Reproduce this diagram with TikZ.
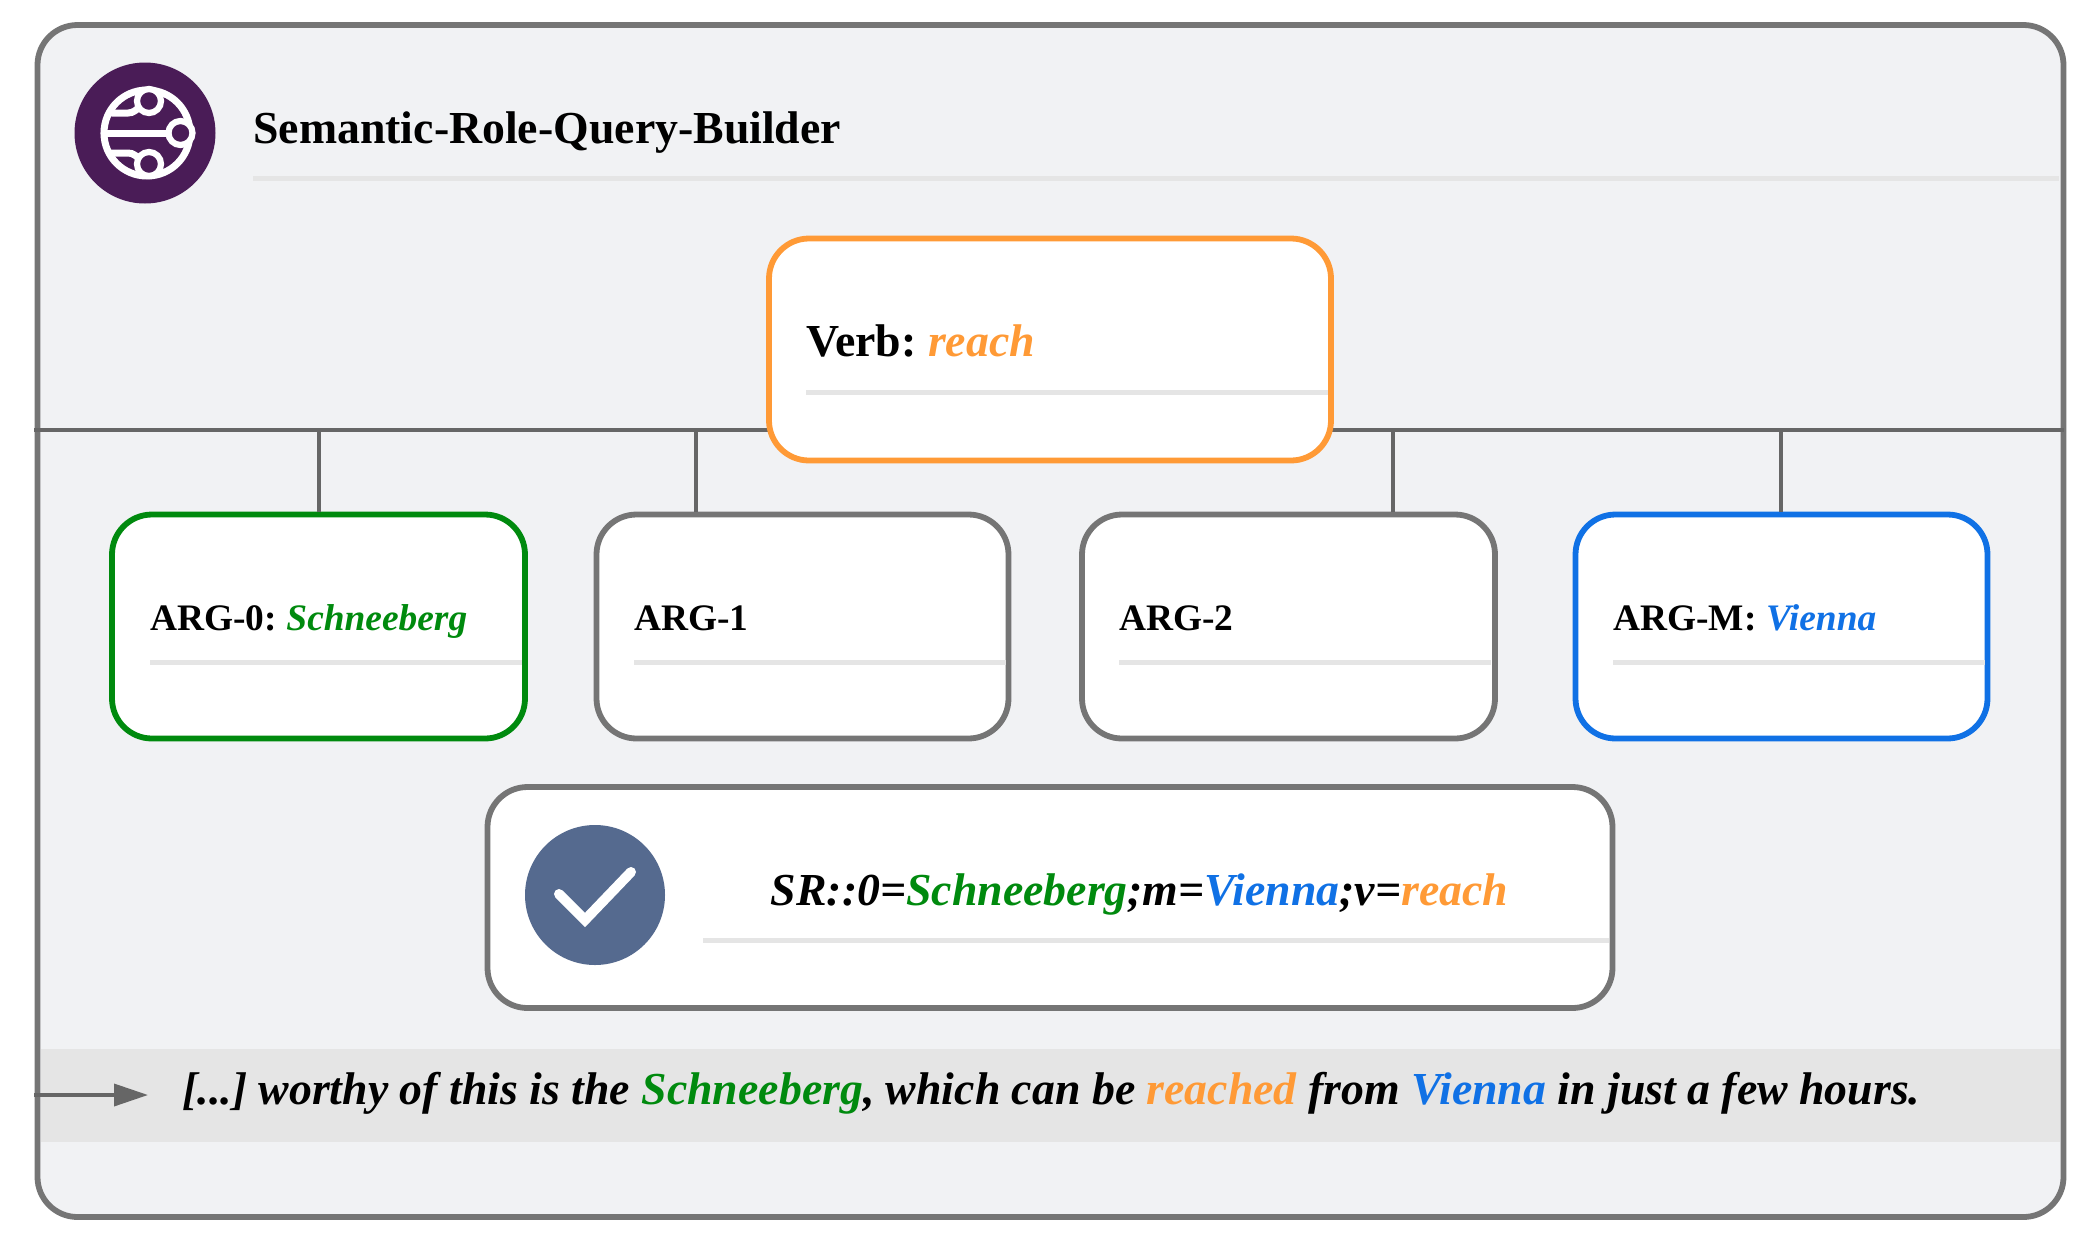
\documentclass[tikz,border=0pt]{standalone}
\usepackage{fontspec}
\setmainfont{Liberation Serif}
\usetikzlibrary{arrows.meta}
\definecolor{bgc}{HTML}{F1F2F4}
\definecolor{edgec}{HTML}{757575}
\definecolor{linec}{HTML}{666666}
\definecolor{rulec}{HTML}{E5E5E5}
\definecolor{org}{HTML}{FF9A36}
\definecolor{grn}{HTML}{008A0E}
\definecolor{blu}{HTML}{1071E5}
\definecolor{plum}{HTML}{4A1C57}
\definecolor{slate}{HTML}{556A8F}
\newcommand{\fs}[1]{\fontsize{#1}{#1}\selectfont\frenchspacing}
\tikzset{
 panel/.style={draw=#1,line width=2.9pt,fill=white,rounded corners=20pt,inner sep=0pt},
 panel/.default=edgec,
 rulel/.style={draw=rulec,line width=2.5pt},
 conn/.style={draw=linec,line width=1.8pt},
 lbl/.style={anchor=base west,inner sep=0pt,font=\bfseries},
 argl/.style={lbl,font=\bfseries\fs{18.7}},
 iconw/.style={draw=white,line width=3.5pt},
 ring/.style={circle,draw=white,line width=3.1pt,fill=plum,minimum size=12pt,inner sep=0pt},
}
\begin{document}
\begin{tikzpicture}[x=0.5pt,y=-0.5pt]
\useasboundingbox (0,0) rectangle (2100,1243);
% outer
\node[panel=edgec,fill=bgc,minimum width=1013pt,minimum height=596pt] (outer) at (1050.5,621) {};
% band
\fill[rulec] (41,1049) rectangle (2060,1142);
% title
\node[lbl,font=\bfseries\fs{22.9}] (title) at (253,143) {Semantic-Role-Query-Builder};
\draw[rulel] (253,178) coordinate (tr1) -- (2059,178) coordinate (tr2);
% logo
\node[circle,fill=plum,minimum size=70.5pt,inner sep=0pt] (logo) at (145,133) {};
\begin{scope}[iconw,line cap=round]
\draw (147,133) circle[radius=43];
\draw (104,133) -- (170,133);
\draw (112,113) -- (128,113) to[out=0,in=215] (140,107);
\draw (112,153) -- (128,153) to[out=0,in=145] (140,159);
\end{scope}
\node[ring] (n1) at (149,101) {};
\node[ring] (n2) at (180.5,133) {};
\node[ring] (n3) at (149,164) {};
% hline
\coordinate (hl) at (34,430);
\coordinate (hr) at (2064,430);
\draw[conn] (hl) -- (hr);
% arg boxes
\node[panel=grn,minimum width=206.5pt,minimum height=112pt] (a0) at (318.5,626.5) {};
\node[panel,minimum width=206pt,minimum height=112pt] (a1) at (802.5,626.5) {};
\node[panel,minimum width=206.5pt,minimum height=112pt] (a2) at (1288.5,626.5) {};
\node[panel=blu,minimum width=206pt,minimum height=112pt] (am) at (1781.5,626.5) {};
\coordinate (j0) at (319,430);
\coordinate (j1) at (696,430);
\coordinate (j2) at (1393,430);
\coordinate (jm) at (1781,430);
\draw[conn] (j0) -- (j0 |- a0.north);
\draw[conn] (j1) -- (j1 |- a1.north);
\draw[conn] (j2) -- (j2 |- a2.north);
\draw[conn] (jm) -- (jm |- am.north);
% verb box
\node[panel=org,minimum width=281pt,minimum height=111pt] (verb) at (1050,349.5) {};
\node[lbl,font=\bfseries\fs{22.9}] (vt) at (806,356.5) {Verb: \textit{\textcolor{org}{reach}}};
\draw[rulel] (806,392) -- (1328,392);
% arg texts
\node[argl] (t0) at (150,630.5) {ARG-0: \textit{\textcolor{grn}{Schneeberg}}};
\draw[rulel] (150,662) -- (1006-484,662);
\node[argl] (t1) at (634,630.5) {ARG-1};
\draw[rulel] (634,662) -- (1006,662);
\node[argl] (t2) at (1119,630.5) {ARG-2};
\draw[rulel] (1119,662) -- (1491,662);
\node[argl] (tm) at (1613,630.5) {ARG-M: \textit{\textcolor{blu}{Vienna}}};
\draw[rulel] (1613,662) -- (1985,662);
% result box
\node[panel,minimum width=562.5pt,minimum height=110.5pt] (res) at (1050,897.5) {};
\node[circle,fill=slate,minimum size=70pt,inner sep=0pt] (chk) at (595,895) {};
\draw[draw=white,line width=5pt,line cap=round,line join=miter] (559,894) -- (585,920) -- (631,872);
\node[lbl,anchor=base,font=\bfseries\itshape\fs{22.9}] (sr) at (1139.5,905) {SR::0=\textcolor{grn}{Schneeberg};m=\textcolor{blu}{Vienna};v=\textcolor{org}{reach}};
\draw[rulel] (703,940) -- (1609,940);
% arrow + sentence
\node[lbl,font=\bfseries\itshape\fs{22.9}] (sent) at (182,1104) {[...] worthy of this is the \textcolor{grn}{Schneeberg}, which can be \textcolor{org}{reached} from \textcolor{blu}{Vienna} in just a few hours.};
\coordinate (as) at (34,1095);
\draw[conn,-{Triangle[length=17pt,width=11pt]}] (as) -- (148,1095);
\end{tikzpicture}
\end{document}
